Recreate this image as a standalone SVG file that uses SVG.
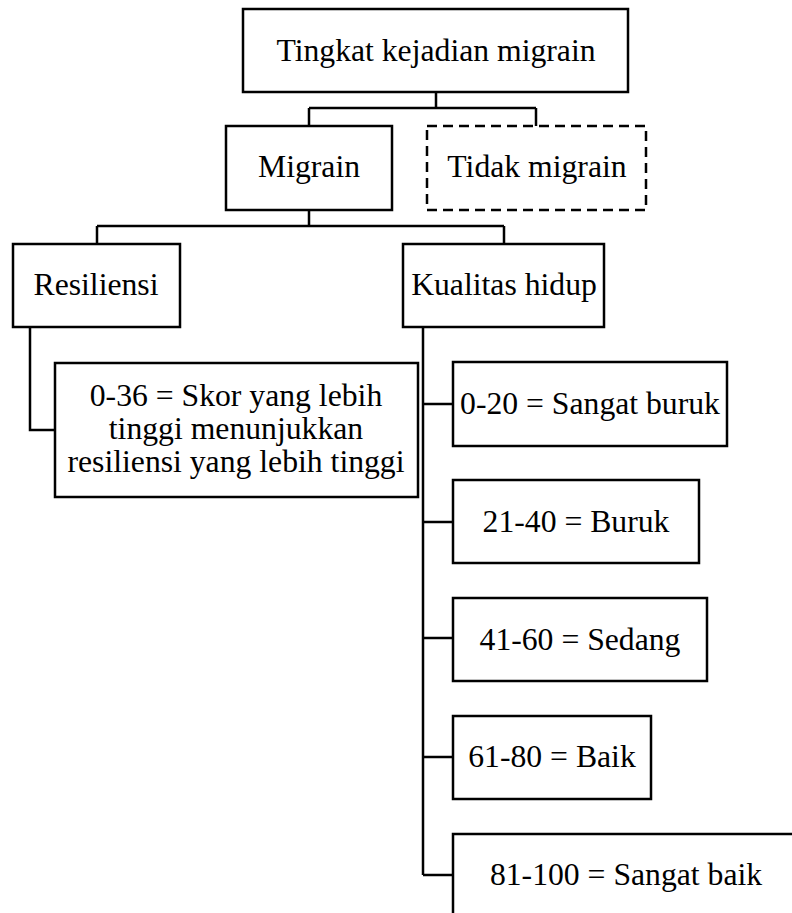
<svg xmlns="http://www.w3.org/2000/svg" width="792" height="913" viewBox="0 0 792 913">
<style>
rect{fill:#fff;stroke:#000;stroke-width:2.5}
.dash{stroke-dasharray:10 6}
text{font-family:"Liberation Serif","Times New Roman",serif;font-size:31.7px;fill:#000;text-anchor:middle}
.c{fill:none;stroke:#000;stroke-width:2.5}
</style>
<g id="connectors" class="c">
<path d="M436 92V108M309 108H536M309 108V126M536 108V126"/>
<path d="M309 210V226M97 226H504M97 226V244M504 226V244"/>
<path d="M30 327V430H55"/>
<path d="M423 327V875M423 404H453M423 522H453M423 638H453M423 757H453M423 875H453"/>
</g>
<g id="n-top"><rect x="243" y="9" width="385" height="83"/><text x="436" y="61">Tingkat kejadian migrain</text></g>
<g id="n-migrain"><rect x="226" y="126" width="166" height="84"/><text x="309" y="177">Migrain</text></g>
<g id="n-tidak"><rect class="dash" x="427" y="126" width="219" height="84"/><text x="537" y="177">Tidak migrain</text></g>
<g id="n-resiliensi"><rect x="13" y="244" width="167" height="83"/><text x="96" y="295">Resiliensi</text></g>
<g id="n-kualitas"><rect x="403" y="244" width="201" height="83"/><text x="504" y="295">Kualitas hidup</text></g>
<g id="n-skor"><rect x="55" y="363" width="363" height="134"/><text x="236" y="406">0-36 = Skor yang lebih</text><text x="236" y="439">tinggi menunjukkan</text><text x="236" y="472">resiliensi yang lebih tinggi</text></g>
<g id="n-k1"><rect x="453" y="362" width="274" height="84"/><text x="590" y="414">0-20 = Sangat buruk</text></g>
<g id="n-k2"><rect x="453" y="480" width="246" height="83"/><text x="576" y="532">21-40 = Buruk</text></g>
<g id="n-k3"><rect x="453" y="598" width="254" height="83"/><text x="580" y="650">41-60 = Sedang</text></g>
<g id="n-k4"><rect x="453" y="716" width="198" height="83"/><text x="552" y="767">61-80 = Baik</text></g>
<g id="n-k5"><rect x="453" y="834" width="360" height="100"/><text x="626" y="885">81-100 = Sangat baik</text></g>
</svg>
